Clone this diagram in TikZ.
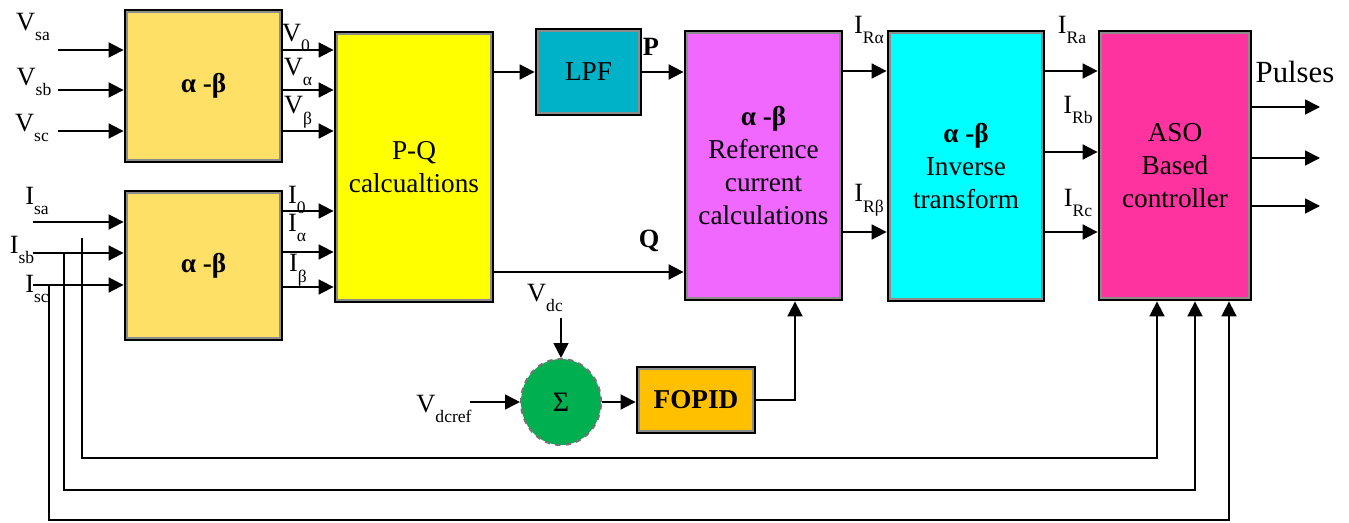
\documentclass[tikz,border=0pt]{standalone}
\usepackage{fontspec}
\setmainfont{Liberation Serif}
\usetikzlibrary{arrows.meta,shapes.geometric}
\definecolor{abcol}{RGB}{255,224,102}
\definecolor{pqcol}{RGB}{255,255,0}
\definecolor{lpfcol}{RGB}{0,178,200}
\definecolor{refcol}{RGB}{240,104,255}
\definecolor{invcol}{RGB}{0,255,255}
\definecolor{asocol}{RGB}{255,51,160}
\definecolor{sumcol}{RGB}{0,176,80}
\definecolor{fopcol}{RGB}{255,192,0}
\newcommand{\sig}[2]{#1\raisebox{-0.9ex}{\fontsize{10}{10}\selectfont #2}}
\tikzset{
  blok/.style={draw=black, line width=1.6pt, align=center,
    font=\fontsize{15.5}{18.8}\selectfont,
    path picture={\draw[black!45, line width=3pt]
      (path picture bounding box.south west) rectangle (path picture bounding box.north east);}},
  arr/.style={-{Triangle[length=8.5pt,width=8.5pt]}, line width=1pt},
  lbl/.style={font=\fontsize{15}{15}\selectfont, inner sep=0pt}
}
\begin{document}
\begin{tikzpicture}
  \useasboundingbox (0,0) rectangle (26.98,10.44);
  % blokken
  \node[blok, fill=abcol, minimum width=3.14cm, minimum height=3.04cm] (abv) at (4.07,8.72) {\textbf{α -β}};
  \node[blok, fill=abcol, minimum width=3.14cm, minimum height=2.98cm] (abi) at (4.07,5.13) {\textbf{α -β}};
  \node[blok, fill=pqcol, minimum width=3.16cm, minimum height=5.40cm] (pq) at (8.28,7.10) {P-Q\\calcualtions};
  \node[blok, fill=lpfcol, minimum width=2.10cm, minimum height=1.72cm] (lpf) at (11.77,9.00) {LPF};
  \node[blok, fill=refcol, minimum width=3.14cm, minimum height=5.38cm] (ref) at (15.27,7.13) {\textbf{α -β}\\Reference\\current\\calculations};
  \node[blok, fill=invcol, minimum width=3.12cm, minimum height=5.40cm] (inv) at (19.32,7.12) {\textbf{α -β}\\Inverse\\transform};
  \node[blok, fill=asocol, minimum width=3.04cm, minimum height=5.38cm] (aso) at (23.50,7.13) {ASO\\Based\\controller};
  \node[blok, fill=fopcol, minimum width=2.36cm, minimum height=1.32cm] (fopid) at (13.92,2.44) {\textbf{FOPID}};
  \node[ellipse, draw=black!55, dashed, line width=1.2pt, fill=sumcol, minimum width=1.6cm, minimum height=1.72cm,
    font=\fontsize{16}{16}\selectfont] (sum) at (11.22,2.40) {Σ};
  % spanningen
  \coordinate (vsa) at (1.16,9.44);
  \coordinate (vsb) at (1.16,8.64);
  \coordinate (vsc) at (1.16,7.82);
  \foreach \n in {vsa,vsb,vsc} {
    \draw[arr] (\n) -- (abv.west |- \n);
    \draw[arr] (abv.east |- \n) -- (pq.west |- \n);
  }
  \node[lbl] at (0.66,9.90) {\sig{V}{sa}};
  \node[lbl] at (0.68,8.80) {\sig{V}{sb}};
  \node[lbl] at (0.64,7.88) {\sig{V}{sc}};
  \node[lbl] at (5.92,9.68) {\sig{V}{0}};
  \node[lbl] at (5.96,9.00) {\sig{V}{α}};
  \node[lbl] at (5.96,8.20) {\sig{V}{β}};
  % stromen
  \coordinate (isa) at (0.66,6.00);
  \coordinate (isb) at (0.66,5.38);
  \coordinate (isc) at (0.66,4.74);
  \foreach \n in {isa,isb,isc}
    \draw[arr] (\n) -- (abi.west |- \n);
  \foreach \y in {6.22,5.40,4.70}
    \draw[arr] (abi.east |- 0,\y) -- (pq.west |- 0,\y);
  \node[lbl] at (0.74,6.42) {\sig{I}{sa}};
  \node[lbl] at (0.44,5.44) {\sig{I}{sb}};
  \node[lbl] at (0.74,4.66) {\sig{I}{sc}};
  \node[lbl] at (5.94,6.44) {\sig{I}{0}};
  \node[lbl] at (5.94,5.88) {\sig{I}{α}};
  \node[lbl] at (5.96,5.04) {\sig{I}{β}};
  % P en Q
  \draw[arr] (pq.east |- lpf) -- (lpf.west);
  \draw[arr] (lpf.east) -- (ref.west |- lpf.east);
  \draw[arr] (pq.east |- 0,5.00) -- (ref.west |- 0,5.00);
  \node[lbl, font=\fontsize{15}{15}\selectfont\bfseries] at (13.02,9.50) {P};
  \node[lbl, font=\fontsize{15}{15}\selectfont\bfseries] at (12.98,5.62) {Q};
  % referentiestromen
  \foreach \y in {9.02,5.80}
    \draw[arr] (ref.east |- 0,\y) -- (inv.west |- 0,\y);
  \foreach \y in {9.02,7.40,5.80}
    \draw[arr] (inv.east |- 0,\y) -- (aso.west |- 0,\y);
  \node[lbl] at (17.38,9.84) {\sig{I}{Rα}};
  \node[lbl] at (17.38,6.44) {\sig{I}{Rβ}};
  \node[lbl] at (21.44,9.84) {\sig{I}{Ra}};
  \node[lbl] at (21.56,8.24) {\sig{I}{Rb}};
  \node[lbl] at (21.56,6.38) {\sig{I}{Rc}};
  % pulsen
  \foreach \y in {8.30,7.28,6.32}
    \draw[arr] (aso.east |- 0,\y) -- (26.40,\y);
  \node[lbl, font=\fontsize{17.5}{17.5}\selectfont] at (25.90,9.00) {Pulses};
  % dc regeling
  \coordinate (vdc) at (sum.north |- 0,4.08);
  \coordinate (vref) at (9.40,2.40);
  \draw[arr] (vdc) -- (sum.north);
  \draw[arr] (vref) -- (sum.west);
  \draw[arr] (sum.east) -- (fopid.west |- sum.east);
  \draw[arr] (fopid.east) -| ([xshift=0.63cm]ref.south);
  \node[lbl] at (10.90,4.48) {\sig{V}{dc}};
  \node[lbl] at (8.88,2.26) {\sig{V}{dcref}};
  % terugkoppeling
  \coordinate (fa) at (1.64,5.68);
  \coordinate (fb) at (1.28,5.38);
  \coordinate (fc) at (0.98,4.74);
  \draw[arr] (fa) |- (23.14,1.28) -- (23.14,0 |- aso.south);
  \draw[arr] (fb) |- (23.90,0.64) -- (23.90,0 |- aso.south);
  \draw[arr] (fc) |- (24.58,0.04) -- (24.58,0 |- aso.south);
\end{tikzpicture}
\end{document}
